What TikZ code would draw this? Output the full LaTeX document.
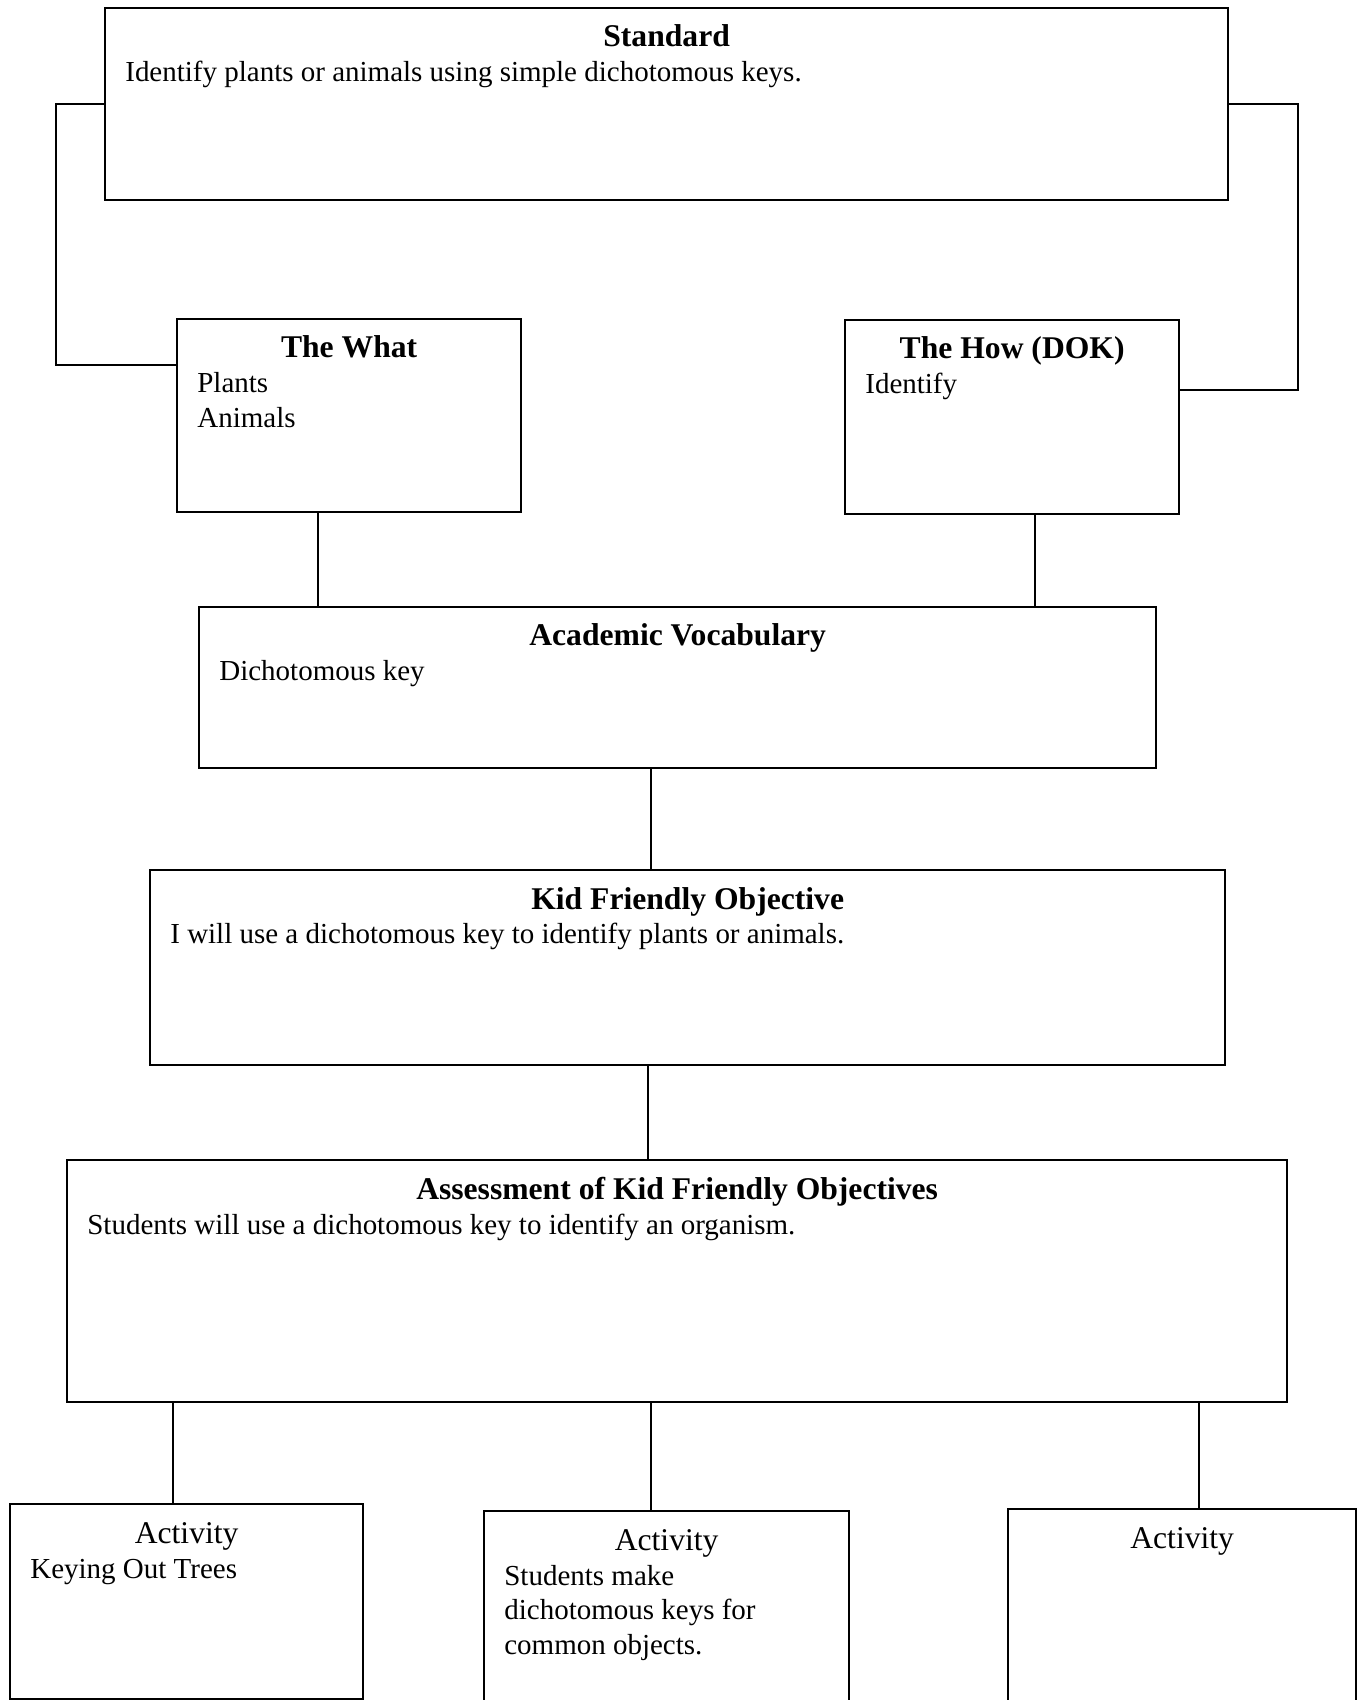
\documentclass[tikz,border=0pt]{standalone}
\usepackage{fontspec}
\setmainfont{Liberation Serif}
\usetikzlibrary{positioning}
\tikzstyle{box}=[draw,line width=1.3pt,rectangle,anchor=north west,inner sep=0pt]
\tikzstyle{link} = [draw,line width=0.9pt]
\tikzstyle{head} = [anchor=base,inner sep=0pt,font=\fontsize{18}{21}\selectfont\bfseries]
\tikzstyle{acthead} = [anchor=base,inner sep=0pt,font=\fontsize{18}{21}\selectfont]
\tikzstyle{body} = [anchor=base west,inner sep=0pt,font=\fontsize{16.5}{19.7}\selectfont]

\begin{document}
\begin{tikzpicture}[x=0.02cm,y=-0.02cm]
	\clip (0,0) rectangle (1364,1700);

	% First we draw the boxes
	\foreach \pos/\name/\w/\h in {{(104,7)/std/1123/192}, {(176,318)/what/344/193}, {(844,319)/how/334/194},
		{(198,606)/voc/957/161}, {(149,869)/kfo/1075/195}, {(66,1159)/ass/1220/242},
		{(9,1503)/act1/353/195}, {(483,1510)/act2/365/230}, {(1007,1508)/act3/348/230}}
	\node[box, minimum width=\w*0.02cm, minimum height=\h*0.02cm] (\name) at \pos {};

	% Then the headings and the texts
	\foreach \name/\head in {std/Standard, what/The What, how/The How (DOK), voc/Academic Vocabulary,
		kfo/Kid Friendly Objective, ass/Assessment of Kid Friendly Objectives}
	\node[head] (\name-head) at ([yshift=-0.8cm]\name.north) {\head};

	\foreach \name in {act1, act2, act3}
	\node[acthead] (\name-head) at ([yshift=-0.8cm]\name.north) {Activity};

	\foreach \name/\body in {std/{Identify plants or animals using simple dichotomous keys.}, what/{Plants\\Animals},
		how/{Identify}, voc/{Dichotomous key}, kfo/{I will use a dichotomous key to identify plants or animals.},
		ass/{Students will use a dichotomous key to identify an organism.}, act1/{Keying Out Trees},
		act2/{Students make\\dichotomous keys for\\common objects.}}
	\node[body] (\name-body) at ([xshift=0.42cm,yshift=-1.5cm]\name.north west)
		{\begin{tabular}[t]{@{}l@{}}\body\end{tabular}};

	% Connect the boxes
	\path[link] (std.west) -- (std.west -| 56,0) |- (what.west |- 0,365);
	\path[link] (std.east) -- (std.east -| 1298,0) |- (how.east |- 0,390);
	\foreach \source/ \dest /\x in {what/voc/318, how/voc/1035, voc/kfo/651, kfo/ass/648,
		ass/act1/173, ass/act2/651, ass/act3/1199}
	\path[link] (\source.south -| \x,0) -- (\dest.north -| \x,0);
\end{tikzpicture}
\end{document}
